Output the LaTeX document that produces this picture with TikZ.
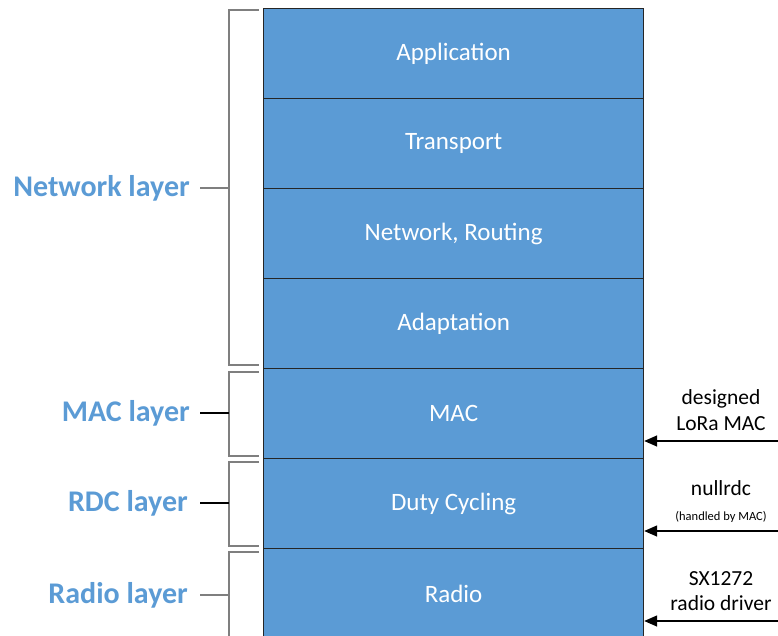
\documentclass[tikz,border=0pt]{standalone}
\usepackage{fontspec}
\setmainfont{Carlito}
\usetikzlibrary{arrows.meta,calc}
\definecolor{layerblue}{HTML}{5B9BD5}
\definecolor{bracketgray}{HTML}{7F7F7F}
\tikzset{
  x=1pt, y=-1pt,
  layerbox/.style={draw=black!85, line width=1.2pt, fill=layerblue, minimum width=380pt,
    minimum height=90pt, inner sep=0pt, anchor=north west, text=white, font=\fontsize{25}{28}\selectfont},
  groupname/.style={anchor=east, text=layerblue, font=\bfseries\fontsize{30}{34}\selectfont, inner sep=0pt},
  bracket/.style={draw=bracketgray, line width=2.2pt},
  stub/.style={draw=bracketgray, line width=2pt},
  feed/.style={draw=black, line width=1.5pt, -{Triangle[length=13pt,width=11pt]}},
  note/.style={align=center, font=\fontsize{21.5}{25.5}\selectfont, inner sep=0pt}
}
\begin{document}
\begin{tikzpicture}
\useasboundingbox (0,0) rectangle (778,636);
\clip (0,0) rectangle (778,636);

% protocol stack
\node[layerbox] (app)   at (263,8)   {Application};
\node[layerbox] (trans) at (263,98)  {Transport};
\node[layerbox] (net)   at (263,188) {Network, Routing};
\node[layerbox] (adapt) at (263,278) {Adaptation};
\node[layerbox] (mac)   at (263,368) {MAC};
\node[layerbox] (rdc)   at (263,458) {Duty Cycling};
\node[layerbox] (radio) at (263,548) {Radio};

% group names on the left
\node[groupname] (lnet)   at (190,188) {Network layer};
\node[groupname] (lmac)   at (190,413) {MAC layer};
\node[groupname] (lrdc)   at (188,503) {RDC layer};
\node[groupname] (lradio) at (188,595) {Radio layer};

% brackets grouping the layers
\draw[bracket] (259,10) -- (229,10) -- (229,365) -- (259,365);
\draw[bracket] (259,372) -- (229,372) -- (229,456) -- (259,456);
\draw[bracket] (259,462) -- (229,462) -- (229,546) -- (259,546);
\draw[bracket] (259,552) -- (229,552) -- (229,650);

\draw[stub] ($(lnet.east)+(10,0)$) -- (229,188);
\draw[draw=black, line width=1.3pt] ($(lmac.east)+(10,0)$) -- (229,413);
\draw[draw=black, line width=1.3pt] ($(lrdc.east)+(12,0)$) -- (229,503);
\draw[stub] ($(lradio.east)+(12,0)$) -- (229,595);

% implementation notes on the right
\coordinate (in1) at (778,441);
\coordinate (in2) at (778,531);
\coordinate (in3) at (778,621);
\draw[feed] (in1) -- (in1 -| mac.east);
\draw[feed] (in2) -- (in2 -| rdc.east);
\draw[feed] (in3) -- (in3 -| radio.east);

\node[note] (n1) at (721,410) {designed\\LoRa MAC};
\node[note] (n2) at (721,488) {nullrdc};
\node[font=\fontsize{12.5}{14}\selectfont, inner sep=0pt] (n2b) at (721,517) {(handled by MAC)};
\node[note] (n3) at (721,591) {SX1272\\radio driver};
\end{tikzpicture}
\end{document}
